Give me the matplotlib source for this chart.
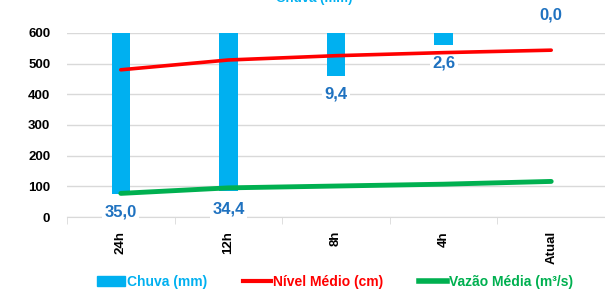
import matplotlib
matplotlib.use('Agg')
import matplotlib.pyplot as plt
from matplotlib.lines import Line2D
from matplotlib.patches import Patch
import numpy as np

# dados
periodos = ['24h', '12h', '8h', '4h', 'Atual']
chuva = [35.0, 34.4, 9.4, 2.6, 0.0]
nivel = [480, 512, 526, 536, 544]
vazao = [77, 95, 101, 107, 116]

AZUL = '#00B0F0'
AZUL_ROT = '#1F72C0'
VERMELHO = '#FF0000'
VERDE = '#00B050'
GRADE = '#D9D9D9'

plt.rcParams['font.family'] = ['Liberation Sans', 'DejaVu Sans']

fig = plt.figure(figsize=(6.05, 2.89), dpi=100)
ax = fig.add_axes([67 / 605, 1 - 217 / 289, 538 / 605, 184 / 289])
ax2 = ax.twinx()

x = np.arange(len(periodos))

# chuva em eixo invertido (barras penduradas do topo)
ax2.bar(x, chuva, width=0.17, color=AZUL, zorder=2)
ax2.set_ylim(40, 0)
ax2.axis('off')
for xi, v in zip(x, chuva):
    txt = f'{v:.1f}'.replace('.', ',')
    dy = 13 if v == 0 else -13
    ax2.annotate(txt, (xi, v), xytext=(0, dy), textcoords='offset points',
                 ha='center', va='center', color=AZUL_ROT, fontsize=12,
                 fontweight='bold',
                 bbox=dict(boxstyle='square,pad=0.15', fc='white', ec='none'))

ax2.plot(x, nivel, color=VERMELHO, lw=2.6, solid_capstyle='round', zorder=3,
         transform=ax.transData)
ax2.plot(x, vazao, color=VERDE, lw=3.5, solid_capstyle='round', zorder=3,
         transform=ax.transData)

ax.set_xlim(-0.5, len(periodos) - 0.5)
ax.set_ylim(0, 600)
ax.set_yticks(range(0, 601, 100))
ax.yaxis.grid(True, color=GRADE, lw=1)
ax.set_axisbelow(True)
for s in ['top', 'right', 'left']:
    ax.spines[s].set_visible(False)
ax.spines['bottom'].set_color(GRADE)
ax.tick_params(axis='y', length=0, labelsize=9.5, pad=12)
for lbl in ax.get_yticklabels():
    lbl.set_fontweight('bold')

ax.set_xticks(x)
ax.set_xticklabels(periodos, rotation=90, fontsize=9.5, fontweight='bold')
ax.tick_params(axis='x', length=0, pad=10)
ax.set_xticks(np.arange(-0.5, len(periodos)), minor=True)
ax.tick_params(axis='x', which='minor', length=5, color=GRADE)

fig.text(0.52, 1.005, 'Chuva (mm)', ha='center', va='center', color=AZUL,
         fontsize=9.5, fontweight='bold')

handles = [Patch(color=AZUL), Line2D([], [], color=VERMELHO, lw=3),
           Line2D([], [], color=VERDE, lw=4)]
labels = ['Chuva (mm)', 'Nível Médio (cm)', 'Vazão Média (m³/s)']
leg = fig.legend(handles, labels, loc='center', bbox_to_anchor=(0.554, 1 - 282 / 289),
                 ncol=3, frameon=False, handlelength=2.0, handletextpad=0.15,
                 columnspacing=2.6, prop={'weight': 'bold', 'size': 10})
for t, c in zip(leg.get_texts(), [AZUL, VERMELHO, VERDE]):
    t.set_color(c)

fig.savefig('out.png', dpi=100)
